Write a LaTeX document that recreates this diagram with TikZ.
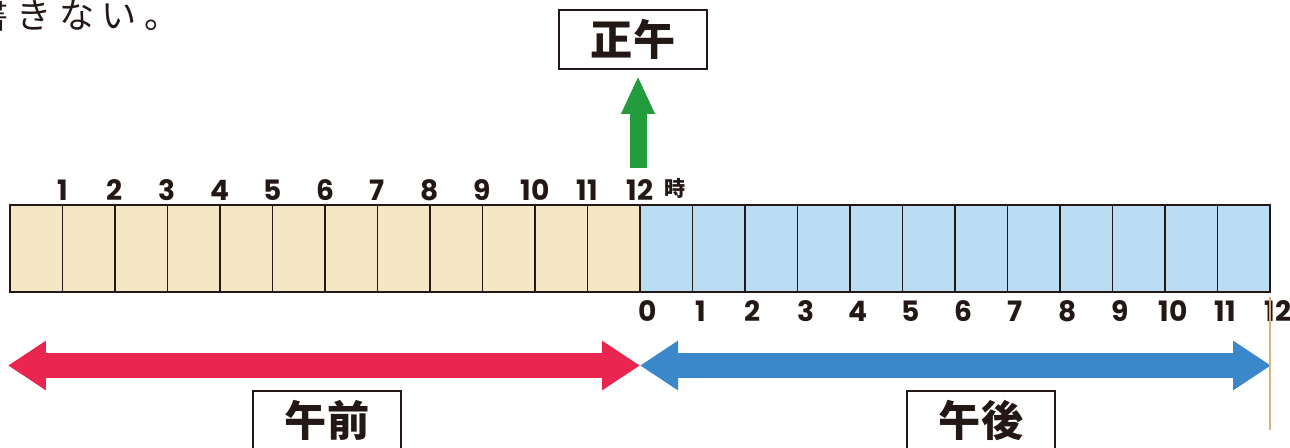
\documentclass[tikz,border=0pt]{standalone}
\usepackage{fontspec}
\setmainfont{Poppins}
\newfontfamily\jp{Noto Sans CJK JP}
\usetikzlibrary{arrows.meta}
\definecolor{ink}{HTML}{231815}
\definecolor{amfill}{HTML}{F6E7C4}
\definecolor{pmfill}{HTML}{BBDDF3}
\definecolor{amred}{HTML}{E8264F}
\definecolor{pmblue}{HTML}{3A87C9}
\definecolor{noongreen}{HTML}{229C3D}
\definecolor{tanline}{HTML}{D6B27A}
\newcommand{\gap}{\hspace{4.4pt}}

\begin{document}
\begin{tikzpicture}[x=0.02cm,y=-0.02cm,
    cell/.style={draw=ink,line width=0.8pt,minimum width=1.05cm,minimum height=1.74cm,
        inner sep=0pt,outer sep=0pt,anchor=north west},
    num/.style={font=\fontsize{16}{16}\selectfont\bfseries,text=ink,inner sep=0pt},
    tagbox/.style={draw=ink,line width=1.1pt,minimum width=2.96cm,minimum height=1.18cm,
        inner sep=0pt,font=\jp\bfseries\fontsize{24}{24}\selectfont,text=ink},
    fat/.style={line width=0.5cm,
        {Triangle[length=0.76cm,width=0.94cm]}-{Triangle[length=0.76cm,width=0.94cm]}}]
    \useasboundingbox (0,0) rectangle (1290,447);
    % text cut off at the top
    \node[font=\jp\fontsize{20}{20}\selectfont,text=ink,anchor=west,inner sep=0pt]
        (cut) at (-27,15) {書\gap き\gap な\gap い\gap 。};
    % hour cells
    \foreach \i in {0,...,11}
        \node[cell,fill=amfill] (c\i) at (10+52.5*\i,205) {};
    \foreach \i in {12,...,23}
        \node[cell,fill=pmfill] (c\i) at (10+52.5*\i,205) {};
    \foreach \n in {1,...,12}
        \node[num] (top\n) at (10+52.5*\n,190) {\n};
    \node[font=\jp\bfseries\fontsize{12}{12}\selectfont,text=ink] (ji) at (675,188) {時};
    \foreach \n in {0,...,12}
        \node[num] (bot\n) at (648+52.5*\n,311) {\n};
    % noon
    \node[tagbox] (noon) at (633,39.5) {正午};
    \coordinate (g0) at (638,168);
    \draw[noongreen,line width=0.34cm,-{Triangle[length=0.76cm,width=0.62cm]}]
        (g0) -- ([yshift=-3.4pt]g0 |- noon.south);
    % am / pm arrows
    \coordinate (la) at (8,365.5);
    \coordinate (mid) at (640,365.5);
    \coordinate (ra) at (1271,365.5);
    \draw[fat,amred] (la) -- (mid);
    \draw[fat,pmblue] (mid) -- (ra);
    \coordinate (t1) at (1270,297);
    \coordinate (t2) at (1270,430);
    \draw[tanline,line width=0.6pt] (t1) -- (t2);
    \node[tagbox] (am) at (327,420.5) {午前};
    \node[tagbox] (pm) at (981,420.5) {午後};
\end{tikzpicture}
\end{document}
